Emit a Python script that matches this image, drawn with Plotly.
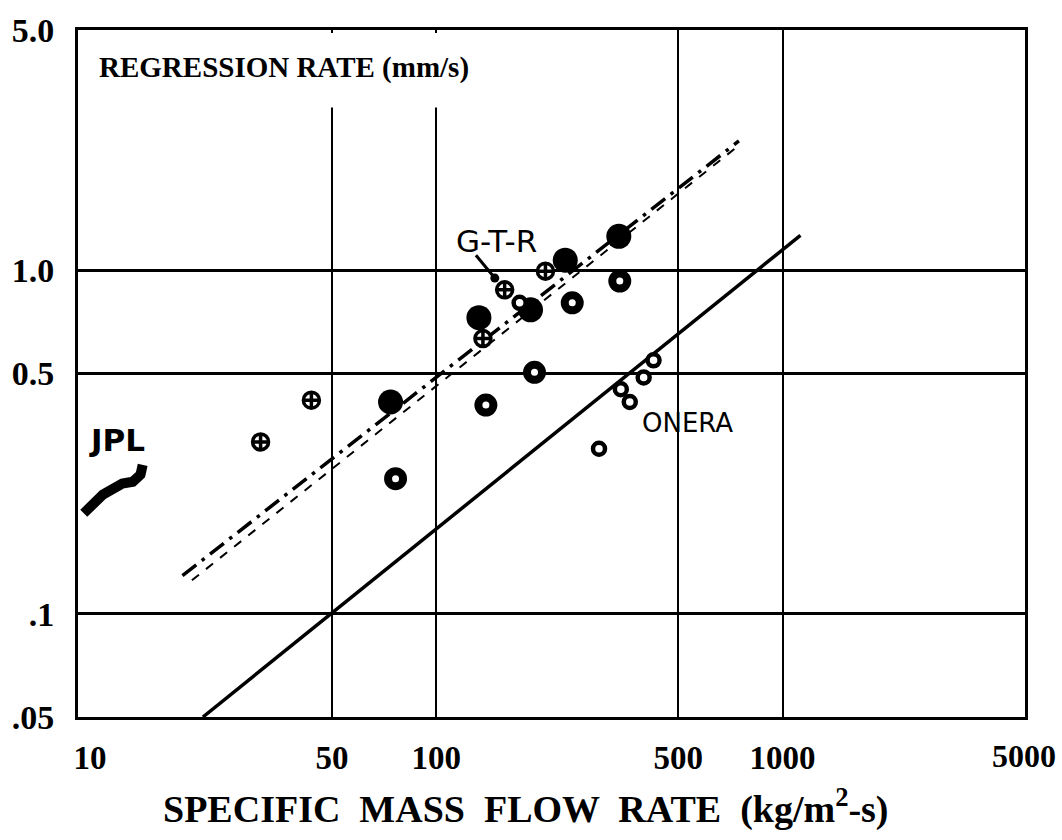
import plotly.graph_objects as go
import numpy as np

# ---------------- data ----------------
# big filled circles
filled_x = [73.8, 132.8, 187.2, 235.8, 336.6]
filled_y = [0.413, 0.727, 0.766, 1.069, 1.254]

# thick open rings
ring_x = [76.3, 139.1, 192.2, 247.0, 338.8]
ring_y = [0.247, 0.4045, 0.504, 0.803, 0.929]

# crossed circles
cross_x = [31.1, 43.6, 136.4, 157.6, 206.7]
cross_y = [0.316, 0.418, 0.632, 0.876, 0.993]

# small open circles
small_x = [174.1, 424.1, 397.1, 341.2, 362.1, 295.1]
small_y = [0.803, 0.546, 0.487, 0.450, 0.413, 0.302]

# ONERA fit line
onera_x = [21.2, 1126.0]
onera_y = [0.05, 1.262]

# G-T-R fit lines
gtr1_x = [18.5, 748.0]
gtr1_y = [0.129, 2.376]
gtr2_x = [19.7, 733.0]
gtr2_y = [0.125, 2.27]

# JPL band
jpl_x = [9.6, 10.3, 10.9, 12.4, 13.3, 14.0, 14.2]
jpl_y = [0.196, 0.212, 0.222, 0.239, 0.242, 0.254, 0.271]

# G-T-R pointer (tail, head)
ptr_x = [130.2, 147.6]
ptr_y = [1.105, 0.948]

x_tickvals = [10, 50, 100, 500, 1000]
x_ticktext = ["10", "50", "100", "500", "1000"]
y_tickvals = [0.05, 0.1, 0.5, 1.0, 5.0]
y_ticktext = [".05", ".1", "0.5", "1.0", "5.0"]
x_grid = [50, 100, 500, 1000]
y_grid = [0.1, 0.5, 1.0]

SERIF = "Liberation Serif, Times New Roman, serif"
HAND = "DejaVu Sans, Arial, sans-serif"

fig = go.Figure()

fig.add_trace(go.Scatter(x=onera_x, y=onera_y, mode="lines",
                         line=dict(color="black", width=3.5), hoverinfo="skip"))
fig.add_trace(go.Scatter(x=gtr1_x, y=gtr1_y, mode="lines",
                         line=dict(color="black", width=3.5, dash="longdashdot"), hoverinfo="skip"))
fig.add_trace(go.Scatter(x=gtr2_x, y=gtr2_y, mode="lines",
                         line=dict(color="black", width=2, dash="dash"), hoverinfo="skip"))
fig.add_trace(go.Scatter(x=jpl_x, y=jpl_y, mode="lines",
                         line=dict(color="black", width=10), hoverinfo="skip"))
fig.add_trace(go.Scatter(x=ptr_x, y=ptr_y, mode="lines",
                         line=dict(color="black", width=3), hoverinfo="skip"))
fig.add_trace(go.Scatter(x=ptr_x[1:], y=ptr_y[1:], mode="markers",
                         marker=dict(symbol="circle", size=9, color="black"), hoverinfo="skip"))

fig.add_trace(go.Scatter(x=filled_x, y=filled_y, mode="markers",
                         marker=dict(symbol="circle", size=25, color="black",
                                     line=dict(width=0))))
fig.add_trace(go.Scatter(x=ring_x, y=ring_y, mode="markers",
                         marker=dict(symbol="circle", size=15, color="white",
                                     line=dict(width=8, color="black"))))
fig.add_trace(go.Scatter(x=cross_x, y=cross_y, mode="markers",
                         marker=dict(symbol="circle-cross", size=16, color="white",
                                     line=dict(width=3.5, color="black"))))
fig.add_trace(go.Scatter(x=small_x, y=small_y, mode="markers",
                         marker=dict(symbol="circle", size=12, color="white",
                                     line=dict(width=4.5, color="black"))))

L, R, T, B = 72, 37, 25, 123
W, H = 1062, 840
pw, ph = W - L - R, H - T - B

def px_x(p):
    return (p - L) / pw

def px_y(p):
    return (H - B - p) / ph

# mask behind the inner title (gridlines at 50/100 stop below it)
fig.add_shape(type="rect", xref="paper", yref="paper",
              x0=px_x(300), x1=px_x(460), y0=px_y(103), y1=px_y(28),
              fillcolor="white", line=dict(width=0), layer="above")

annotations = [
    dict(text="REGRESSION RATE (mm/s)", xref="paper", yref="paper",
         x=px_x(91), y=px_y(63), xanchor="left", yanchor="middle", showarrow=False,
         font=dict(family=SERIF, size=29, color="black", weight="bold")),
    dict(text="SPECIFIC  MASS  FLOW  RATE  (kg/m<sup>2</sup>-s)", xref="paper", yref="paper",
         x=px_x(523), y=px_y(807), xanchor="center", yanchor="middle", showarrow=False,
         font=dict(family=SERIF, size=38, color="black", weight="bold")),
    dict(text="5000", xref="paper", yref="paper",
         x=px_x(1058), y=px_y(756), xanchor="right", yanchor="middle", showarrow=False,
         font=dict(family=SERIF, size=32, color="black", weight="bold")),
    dict(text="G-T-R", x=np.log10(149.6), y=np.log10(1.213), showarrow=False,
         font=dict(family=HAND, size=31, color="black")),
    dict(text="ONERA", x=np.log10(531), y=np.log10(0.359), showarrow=False,
         font=dict(family=HAND, size=26, color="black")),
    dict(text="JPL", x=np.log10(12.0), y=np.log10(0.32), showarrow=False,
         font=dict(family=HAND, size=31, color="black", weight="bold")),
]

fig.update_layout(
    width=W, height=H,
    margin=dict(l=L, r=R, t=T, b=B),
    paper_bgcolor="white", plot_bgcolor="white",
    showlegend=False,
    annotations=annotations,
)

fig.update_xaxes(type="log", range=[0.9656, 3.700],
                 tickmode="array", tickvals=x_tickvals, ticktext=x_ticktext,
                 showgrid=False, zeroline=False, ticks="",
                 tickfont=dict(family=SERIF, size=33, color="black", weight="bold"),
                 ticklabelstandoff=9,
                 showline=True, linewidth=3, linecolor="black", mirror=True,
                 minor=dict(tickmode="array", tickvals=x_grid, showgrid=True,
                            gridcolor="black", gridwidth=2, ticks=""))
fig.update_yaxes(type="log", range=[np.log10(0.05), np.log10(5.0)],
                 tickmode="array", tickvals=y_tickvals, ticktext=y_ticktext,
                 showgrid=False, zeroline=False, ticks="",
                 tickfont=dict(family=SERIF, size=34, color="black", weight="bold"),
                 ticklabelstandoff=14,
                 showline=True, linewidth=3, linecolor="black", mirror=True,
                 minor=dict(tickmode="array", tickvals=y_grid, showgrid=True,
                            gridcolor="black", gridwidth=3, ticks=""))

fig.write_html("out.html")
